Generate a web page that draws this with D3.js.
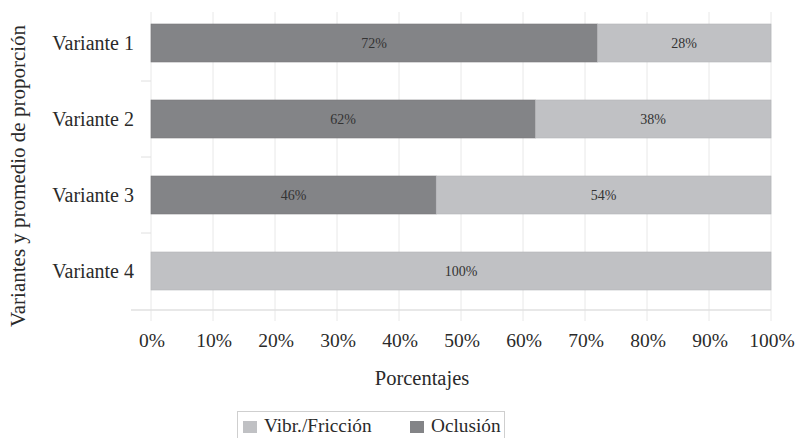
<!DOCTYPE html>
<html><head><meta charset="utf-8">
<script src="https://cdn.jsdelivr.net/npm/d3@7"></script>
<style>body{margin:0;background:#fff}svg{display:block}</style>
</head><body>
<svg id="c" width="799" height="438" font-family="'Liberation Serif', 'DejaVu Serif', serif"></svg>
<script>
const categories = ["Variante 1","Variante 2","Variante 3","Variante 4"];
const oclusion = [72,62,46,0];
const vibr = [28,38,54,100];
const ticks = [0,10,20,30,40,50,60,70,80,90,100];
const seriesNames = ["Vibr./Fricción","Oclusión"];

const svg = d3.select("#c");
const x = d3.scaleLinear().domain([0,100]).range([151,771]);
const y = d3.scaleBand().domain(categories).range([5,309]).paddingInner(0.5).paddingOuter(0.25);
const colDark = "#838487", colLight = "#c0c1c4";
const txt = "#2a2a2a";

// gridlines
svg.append("g").selectAll("line").data(ticks).join("line")
  .attr("x1",d=>x(d)).attr("x2",d=>x(d)).attr("y1",12).attr("y2",321)
  .attr("stroke","#e8e8e8").attr("stroke-width",1);
// bottom axis line
svg.append("line").attr("x1",131).attr("x2",771).attr("y1",310).attr("y2",310).attr("stroke","#e0e0e0").attr("stroke-width",1.5);
// category separator ticks
const seps = categories.slice(1).map(c => y(c) - y.step()*y.paddingInner()/2);
svg.append("g").selectAll("line").data(seps).join("line")
  .attr("x1",141).attr("x2",151).attr("y1",d=>d).attr("y2",d=>d).attr("stroke","#e0e0e0");

const data = categories.map((c,i)=>({c, o:oclusion[i], v:vibr[i]}));
const g = svg.append("g");
g.selectAll("rect.o").data(data.filter(d=>d.o>0)).join("rect").attr("class","o")
  .attr("x",x(0)).attr("y",d=>y(d.c)).attr("width",d=>x(d.o)-x(0)).attr("height",y.bandwidth())
  .attr("fill",colDark).attr("stroke","#78797c").attr("stroke-width",0.6);
g.selectAll("rect.v").data(data).join("rect").attr("class","v")
  .attr("x",d=>x(d.o)).attr("y",d=>y(d.c)).attr("width",d=>x(d.o+d.v)-x(d.o)).attr("height",y.bandwidth())
  .attr("fill",colLight).attr("stroke","#b3b4b7").attr("stroke-width",0.6);
g.selectAll("text.o").data(data.filter(d=>d.o>0)).join("text").attr("class","o")
  .attr("x",d=>(x(0)+x(d.o))/2).attr("y",d=>y(d.c)+y.bandwidth()/2+5)
  .attr("text-anchor","middle").attr("font-size",14).attr("fill","#333").text(d=>d.o+"%");
g.selectAll("text.v").data(data).join("text").attr("class","v")
  .attr("x",d=>(x(d.o)+x(100))/2).attr("y",d=>y(d.c)+y.bandwidth()/2+5)
  .attr("text-anchor","middle").attr("font-size",14).attr("fill","#333").text(d=>d.v+"%");

// category labels
svg.append("g").selectAll("text").data(categories).join("text")
  .attr("x",134).attr("y",d=>y(d)+y.bandwidth()/2+7).attr("text-anchor","end")
  .attr("font-size",20).attr("fill",txt).text(d=>d);
// x tick labels
svg.append("g").selectAll("text").data(ticks).join("text")
  .attr("x",d=>x(d)+1).attr("y",347).attr("text-anchor","middle")
  .attr("font-size",19.5).attr("fill",txt).text(d=>d+"%");
// axis titles
svg.append("text").attr("x",422).attr("y",385).attr("text-anchor","middle").attr("font-size",20.5).attr("fill",txt).text("Porcentajes");
svg.append("text").attr("transform","translate(25,176) rotate(-90)").attr("text-anchor","middle").attr("font-size",21).attr("fill",txt).text("Variantes y promedio de proporción");

// legend
const lg = svg.append("g");
lg.append("rect").attr("x",237.5).attr("y",411.5).attr("width",267).attr("height",30).attr("fill","none").attr("stroke","#cfcfcf");
const lx = [243,410], lc=[colLight,colDark];
seriesNames.forEach((n,i)=>{
  lg.append("rect").attr("x",lx[i]).attr("y",421).attr("width",14).attr("height",12).attr("fill",lc[i]);
  lg.append("text").attr("x",lx[i]+21).attr("y",432).attr("font-size",19.3).attr("fill",txt).text(n);
});
</script>
</body></html>
